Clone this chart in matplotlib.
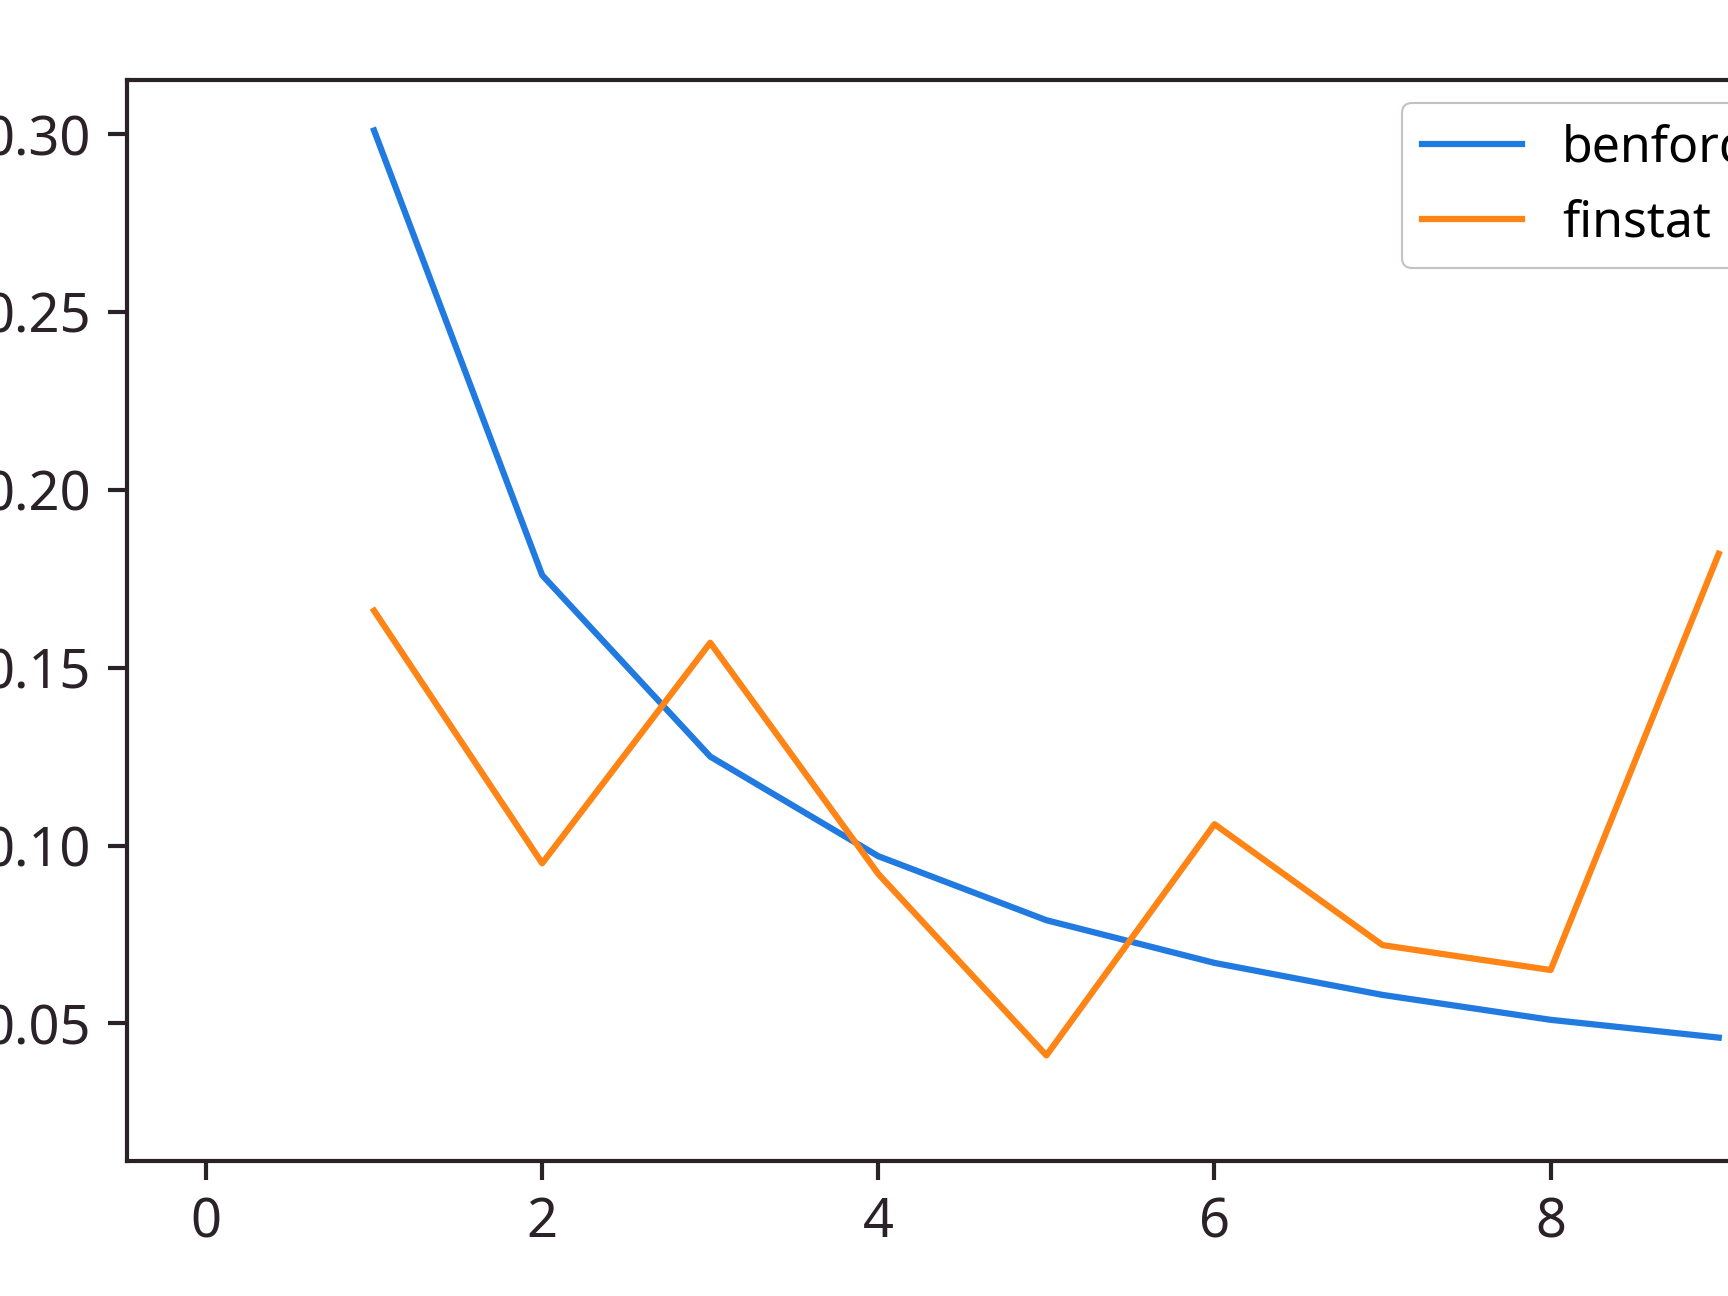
import numpy as np
import matplotlib
matplotlib.use("Agg")
import matplotlib.pyplot as plt

# first digit distribution: benford law vs finstat data
digits = [1, 2, 3, 4, 5, 6, 7, 8, 9]
benford = [0.301, 0.176, 0.125, 0.097, 0.079, 0.067, 0.058, 0.051, 0.046]
finstat = [0.166, 0.095, 0.157, 0.092, 0.041, 0.106, 0.072, 0.065, 0.182]

xticks = [0, 2, 4, 6, 8]
yticks = [0.05, 0.10, 0.15, 0.20, 0.25, 0.30]

plt.rcParams['font.family'] = ['Noto Sans', 'DejaVu Sans']

fig = plt.figure(figsize=(17.28, 12.96), dpi=100)
ax = fig.add_axes([0.0735, 0.1044, 0.9649, 0.8339])

ax.plot(digits, benford, color='#217ae0', lw=4.5, label='benford')
ax.plot(digits, finstat, color='#ff8416', lw=4.5, label='finstat')

ax.set_xlim(-0.47, 9.45)
ax.set_ylim(0.0114, 0.3152)
ax.set_xticks(xticks)
ax.set_yticks(yticks)
ax.set_yticklabels(['%.2f' % v for v in yticks])

for s in ax.spines.values():
    s.set_linewidth(3)
    s.set_color('#2a2228')
ax.tick_params(axis='both', labelsize=39, length=14, width=3, color='#2a2228', labelcolor='#2a2228')
ax.tick_params(axis='x', pad=11)
ax.tick_params(axis='y', pad=12)

leg = ax.legend(loc='upper right', fontsize=36, handlelength=2.0, borderaxespad=0.47)
for line in leg.get_lines():
    line.set_linewidth(4.5)
leg.get_frame().set_linewidth(1.5)
leg.get_frame().set_edgecolor('#b8b0b4')

plt.savefig('out.png', dpi=100)
